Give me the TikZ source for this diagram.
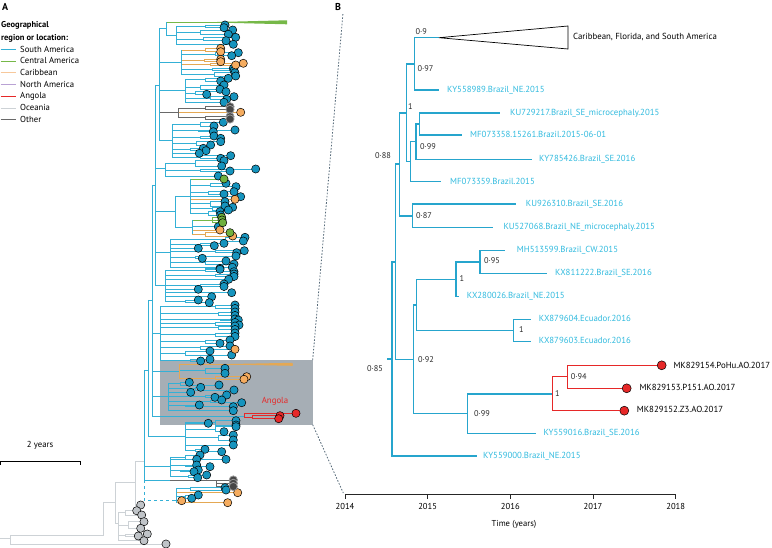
\documentclass[tikz,border=0pt]{standalone}
\usepackage{fontspec}
\setmainfont{PT Sans}
\definecolor{sa}{RGB}{52,176,214}
\definecolor{saB}{RGB}{38,165,205}
\definecolor{labc}{RGB}{48,186,222}
\definecolor{caC}{RGB}{118,184,72}
\definecolor{cbC}{RGB}{228,168,84}
\definecolor{cbL}{RGB}{247,200,155}
\definecolor{naC}{RGB}{185,162,212}
\definecolor{angC}{RGB}{230,40,40}
\definecolor{oceC}{RGB}{205,210,214}
\definecolor{othC}{RGB}{105,105,105}
\definecolor{bdot}{RGB}{22,148,190}
\definecolor{odot}{RGB}{245,172,95}
\definecolor{gdot}{RGB}{112,176,62}
\definecolor{kdot}{RGB}{70,70,70}
\definecolor{ydot}{RGB}{192,196,200}
\definecolor{boxc}{RGB}{166,174,181}
\definecolor{dashc}{RGB}{85,105,120}
\definecolor{supc}{RGB}{40,40,40}
\newcommand\mypairs[3]{\foreach \pa/\ya/\xa/\yb/\xb in {#3}{\draw[#1] (#2,{(\ya+\yb)/2}) -- (\pa,{(\ya+\yb)/2}) (\pa,\ya) -- (\pa,\yb) (\pa,\ya) -- (\xa,\ya) (\pa,\yb) -- (\xb,\yb);}}
\newcommand\mydots[2]{\foreach \yy/\xx in {#2}{\filldraw[#1] (\xx,\yy) circle (4.1pt);}}
\begin{document}
\begin{tikzpicture}[x=1pt,y=-1pt,
  brA/.style={sa,line width=0.75pt},
  brO/.style={cbC,line width=0.75pt},
  brG/.style={caC,line width=0.75pt},
  brDk/.style={othC,line width=0.75pt},
  brGy/.style={oceC,line width=0.9pt},
  brR/.style={angC,line width=0.8pt},
  brB/.style={saB,line width=1.1pt},
  brBR/.style={angC,line width=1.1pt},
  dB/.style={fill=bdot,draw=black,line width=0.5pt},
  dO/.style={fill=odot,draw=black,line width=0.5pt},
  dG/.style={fill=gdot,draw=black,line width=0.5pt},
  dK/.style={fill=kdot,draw=black!40,line width=0.8pt},
  dY/.style={fill=ydot,draw=black,line width=0.5pt},
  dR/.style={fill=angC,draw=black,line width=0.5pt},
  reddot/.style={circle,fill=angC,draw=black,line width=0.5pt,minimum size=9pt,inner sep=0pt},
  tip/.style={anchor=west,inner sep=0pt,font=\fontsize{8.8}{10}\selectfont,text=labc,text height=6pt,text depth=1.5pt},
  tipk/.style={tip,text=black},
  sup/.style={anchor=west,inner sep=0pt,font=\fontsize{8.3}{10}\selectfont,text=supc,text height=6pt,text depth=1.5pt},
  leg/.style={anchor=west,inner sep=0pt,font=\fontsize{8.7}{10}\selectfont,text height=6pt,text depth=1.5pt},
  legl/.style={line width=1pt}
]
\useasboundingbox (0,0) rectangle (772,548);

% ---------------- Panel labels and legend
\node[anchor=west,inner sep=0pt,font=\bfseries\fontsize{10}{12}\selectfont] (labA) at (2,7) {A};
\node[anchor=west,inner sep=0pt,font=\bfseries\fontsize{10}{12}\selectfont] (labB) at (335,7) {B};
\node[leg,font=\bfseries\fontsize{8.5}{10}\selectfont] (lg1) at (1,25) {Geographical};
\node[leg,font=\bfseries\fontsize{8.5}{10}\selectfont] (lg2) at (1,38) {region or location:};
\foreach \yy/\cc/\tt in {50/sa/South America,61.7/caC/Central America,73/cbL/Caribbean,85/naC/North America,96.7/angC/Angola,108.3/oceC/Oceania,120/othC/Other}{
  \draw[legl,\cc] (0.7,\yy) -- (15.7,\yy);
  \node[leg] at (20,\yy) {\tt};
}

% scale bar
\node[leg,anchor=center] (sbt) at (40,445) {2 years};
\draw[line width=0.9pt] (0.7,464.5) -- (0.7,461) -- (80,461) -- (80,464.5);

% ---------------- Zoom box and dashed connectors
\node[fill=boxc,draw=none,inner sep=0pt,minimum width=152.3pt,minimum height=64.3pt,anchor=north west] (zbox) at (160,360) {};
\coordinate (btop) at (343,13);
\coordinate (axl) at (343.3,493);
\draw[dashc,line width=0.8pt,dash pattern=on 1.6pt off 1.6pt] (zbox.north east) -- (btop);
\draw[dashc,line width=0.8pt,dash pattern=on 1.6pt off 1.6pt] (zbox.south east) -- (axl);

% ---------------- Panel A tree
\draw[brG] (166,22.3) -- (287,22.3);
\fill[caC] (205,22.3) -- (287,20.3) -- (287,24.3) -- cycle;
\draw[brA] (166,22.3) -- (166,35) (159,28.6) -- (166,28.6);
% S1
\mypairs{brA}{176}{205/25/225/27.7/224, 200/30/232.7/34.3/228.3, 203/37.3/235.7/40.7/226, 195/44.3/233.3/44.3/233.3}
\draw[brA] (176,26.35) -- (176,44.3) (166,35) -- (176,35);
% S2
\mypairs{brO}{181}{205/48.3/220.7/51.7/220.7, 204/59.3/220.7/61.7/220.7, 210/63.3/243.3/65/235.7}
\mypairs{brA}{181}{215/52.7/238.3/55.7/231.7, 212/68.3/233.3/70.7/234, 214/72.7/235/76/235.7}
\draw[brA] (181,50) -- (181,74.35) (159,62) -- (181,62);
% S3
\mypairs{brA}{185}{205/78.3/228.3/81/220.7, 200/85/224/89.3/220, 195/91.7/226/94.3/206.7, 210/96.7/234/99.3/226.7, 205/102.3/224/102.3/224}
\draw[brA] (185,79.65) -- (185,102.3) (159,90) -- (185,90);
% S4
\mypairs{brDk}{178}{205/106.7/230/109.5/230, 205/116.7/230/119/230}
\mypairs{brO}{178}{208/112.3/240.7/112.3/240.7}
\draw[brDk] (178,108.1) -- (178,117.85) (159,112) -- (178,112);
% S5
\mypairs{brA}{172}{200/122.3/223.3/126/214, 198/130/235/131.7/213.3, 200/136/214/138.3/220.7, 196/141.7/220.7/145/210.7, 190/148.3/203.3/150.7/206, 185/153.3/199.3/153.3/199.3, 200/155.7/230.7/158.3/220.7}
\draw[brA] (172,124.15) -- (172,157) (159,140) -- (172,140);
\draw[brA] (159,28.6) -- (159,140) (155,85) -- (159,85);
% S6
\mypairs{brA}{165}{195/160.7/224/166/221.7, 200/169/255.7/171/230, 190/176/218.3/176/218.3}
\draw[brA] (165,163.35) -- (165,176) (155,168) -- (165,168);
% S7
\mypairs{brG}{190}{205/179/224/179/224}
\mypairs{brA}{190}{210/183.3/226/186.7/236, 208/191.7/234/194/224, 206/196.7/240.7/196.7/240.7, 210/201.7/225/206/225, 212/207.3/232.7/210/228.3, 208/211.7/220/215/220.7}
\mypairs{brO}{190}{206/199.3/235/199.3/235}
\draw[brA] (190,179) -- (190,213.35);
% S8
\mypairs{brG}{192}{212/217.3/221.7/222.7/222.7, 212/220/222/220/222}
\mypairs{brA}{192}{200/226.7/218.3/226.7/218.3}
\mypairs{brO}{192}{205/230/220/230/220, 205/232.7/230/236/232.7}
\draw[brA] (192,220) -- (192,234.35);
\draw[brA] (175,196) -- (175,227) (175,196) -- (190,196) (175,227) -- (192,227) (155,211.5) -- (175,211.5);
% S9
\mypairs{brA}{170}{225/237.3/245/241/243.3, 200/243.3/224/245.7/214.3, 185/248.3/198.3/248.3/198.3, 215/250.7/244.3/252.7/236.7, 195/256/236/258.3/202.3, 205/261/226/264/234, 205/267.3/232.3/268.3/220}
\draw[brA] (170,239.15) -- (170,267.8) (155,252) -- (170,252);
% S10
\mypairs{brA}{165}{205/269.3/220/271.7/234, 215/274/234/276.5/234, 210/279.3/228.7/279.3/228.7, 200/284/224/286.5/224, 185/289.3/198.3/289.3/198.3, 210/292.7/231.7/292.7/231.7, 190/296.7/211.7/296.7/211.7, 185/300/198.3/302.7/209.3}
\draw[brA] (165,270.5) -- (165,301.35) (155,285) -- (165,285);
\draw[brA] (155,85) -- (155,285) (152,185) -- (155,185);
% S11
\mypairs{brA}{160}{215/305/235/308.5/235, 218/312/235/315.5/235, 220/319/235/320/238.3, 215/322.5/235/325/239, 218/326/235/329.5/235, 215/333/235/336.5/235, 205/340/230/343.3/220, 200/346/230/349.3/235, 185/351/210/355/231.7, 190/359.3/210/361/200.7}
\draw[brA] (160,306.75) -- (160,360.15) (152,333) -- (160,333);
% box: orange clade
\draw[brO] (179,364.3) -- (292.7,364.3);
\fill[cbC] (215,364.3) -- (292.7,362.8) -- (292.7,365.8) -- cycle;
\mypairs{brO}{179}{215/376.7/246.7/379.3/244}
\mypairs{brA}{179}{205/368.3/225/373.3/225}
\draw[brO] (179,364.3) -- (179,378);
\draw[brA] (152,371) -- (179,371);
% box: blue clade
\mypairs{brA}{168}{180/382.3/189.3/385/219, 195/387.3/200.7/390/234, 182/392.3/190.7/392.3/190.7, 205/395/226.7/397.3/215, 210/400/221.7/402.7/241.7, 185/405/199.3/406.7/233.3, 200/410.7/233.3/410.7/233.3}
\draw[brA] (168,383.65) -- (168,410.7) (152,396) -- (168,396);
% Angola
\draw[brA] (152,416) -- (244,416);
\draw[brR] (244,413.3) -- (244,417.2) (244,413.3) -- (296,413.3);
\mypairs{brR}{244}{252/415.7/280/418.7/278.7}
\node[inner sep=0pt,font=\fontsize{8.8}{10}\selectfont,text=angC] (angl) at (275,401.7) {Angola};
\draw[brA] (152,185) -- (152,416) (148,300) -- (152,300);
% bottom 1
\mypairs{brA}{185}{215/420.7/236/425/236, 192/423.3/208.3/423.3/208.3, 215/426.7/236/431.7/224, 218/435/233.3/440/233.3, 218/445/233.3/445/233.3, 195/449.3/205/451.7/221.7}
\draw[brA] (185,422.85) -- (185,450.5) (148,436) -- (185,436);
\draw[brA] (148,300) -- (148,436) (144,370) -- (148,370);
% bottom 2
\mypairs{brA}{170}{185/455/200/459.3/196.7, 195/459.3/226/459.3/226, 185/465/196.7/466.7/210, 180/470/198.3/471.7/194, 188/475/206.7/477.7/197.7}
\draw[brA] (170,457.15) -- (170,476.35) (144,466) -- (170,466);
% dark grey
\draw[brA] (144,480) -- (170,480);
\draw[brDk] (170,480) -- (216.7,480) (216.7,480) -- (216.7,486.5) (216.7,480) -- (233.3,480) (216.7,483.3) -- (233.3,483.3) (216.7,486.5) -- (233.3,486.5);
\draw[brA] (144,370) -- (144,480);
% dashed connection and bottom 3
\draw[brA,dashed] (144,480) -- (144,500) -- (173,500);
\mypairs{brA}{176}{190/487.7/225/490/226, 185/495/198.3/498.3/191.7}
\mypairs{brO}{176}{195/492.7/237.7/492.7/237.7, 176/500.7/181.7/500.7/181.7, 176/502.7/227.7/502.7/227.7}
\draw[brA] (176,488.85) -- (176,502.7) (173,500) -- (176,500);
% grey root
\draw[brGy] (0,538) -- (10,538) (10,535.7) -- (10,544) (10,535.7) -- (103,535.7) (10,544) -- (166,544);
\draw[brGy] (103,502) -- (103,535.7) (103,502) -- (115,502) (115,482) -- (115,523) (115,482) -- (135,482) (135,461.7) -- (135,505) (135,461.7) -- (144,461.7) (135,505) -- (140.7,505);
\mypairs{brGy}{118}{125/510.7/136.7/515/141.7, 128/521.7/144/528.3/140.7, 125/534/147.3/536/138.3, 122/540.7/144/540.7/144}
\draw[brGy] (118,512.85) -- (118,540.7) (115,523) -- (118,523);

% dots
\mydots{dB}{25/225, 27.7/224, 30/232.7, 34.3/228.3, 37.3/235.7, 40.7/226, 44.3/233.3,
52.7/238.3, 55.7/231.7, 68.3/233.3, 70.7/234, 72.7/235, 76/235.7,
78.3/228.3, 81/220.7, 85/224, 89.3/220, 91.7/226, 94.3/206.7, 96.7/234, 99.3/226.7, 102.3/224,
122.3/223.3, 126/214, 130/235, 131.7/213.3, 136/214, 138.3/220.7, 141.7/220.7, 145/210.7, 148.3/203.3, 150.7/206, 153.3/199.3, 155.7/230.7, 158.3/220.7,
160.7/224, 166/221.7, 169/255.7, 171/230, 176/218.3,
183.3/226, 186.7/236, 191.7/234, 194/224, 196.7/240.7, 201.7/225, 206/225, 207.3/232.7, 210/228.3, 211.7/220, 215/220.7, 226.7/218.3,
237.3/245, 241/243.3, 243.3/224, 245.7/214.3, 248.3/198.3, 250.7/244.3, 252.7/236.7, 256/236, 258.3/202.3, 261/226, 264/234, 267.3/232.3, 268.3/220,
269.3/220, 271.7/234, 274/234, 276.5/234, 279.3/228.7, 284/224, 286.5/224, 289.3/198.3, 292.7/231.7, 296.7/211.7, 300/198.3, 302.7/209.3,
305/235, 308.5/235, 312/235, 315.5/235, 319/235, 320/238.3, 322.5/235, 325/239, 326/235, 329.5/235, 333/235, 336.5/235, 340/230, 343.3/220, 346/230, 351/210, 355/231.7, 359.3/210, 361/200.7,
368.3/225, 373.3/225, 382.3/189.3, 387.3/200.7, 385/219, 390/234, 392.3/190.7, 395/226.7, 397.3/215, 400/221.7, 402.7/241.7, 405/199.3, 406.7/233.3, 410.7/233.3,
420.7/236, 425/236, 423.3/208.3, 426.7/236, 431.7/224, 435/233.3, 440/233.3, 445/233.3, 449.3/205, 451.7/221.7,
455/200, 459.3/196.7, 459.3/226, 465/196.7, 466.7/210, 470/198.3, 471.7/194, 475/206.7, 477.7/197.7,
487.7/225, 490/226, 495/198.3, 498.3/191.7}
\mydots{dO}{48.3/220.7, 51.7/220.7, 59.3/220.7, 61.7/220.7, 63.3/243.3, 65/235.7, 112.3/240.7, 199.3/235, 230/220, 236/232.7, 349.3/235, 376.7/246.7, 379.3/244, 492.7/237.7, 500.7/181.7, 502.7/227.7}
\mydots{dG}{179/224, 217.3/221.7, 220/222, 222.7/222.7, 232.7/230}
\mydots{dK}{106.7/230, 109.5/230, 116.7/230, 119/230, 480/233.3, 483.3/233.3, 486.5/233.3}
\mydots{dY}{505/140.7, 510.7/136.7, 515/141.7, 521.7/144, 528.3/140.7, 534/147.3, 536/138.3, 540.7/144, 544/166}
\mydots{dR}{413.3/296, 415.7/280, 418.7/278.7}

% ---------------- Panel B tree
\coordinate (stub) at (387.3,359);
\coordinate (n392) at (392,359);
\coordinate (n395) at (395.3,262);
\coordinate (n399) at (399.3,164);
\coordinate (n1a) at (406.7,113);
\coordinate (nT) at (414.3,64);
\coordinate (n410) at (410.7,161.7);
\coordinate (n416) at (416,141.7);
\coordinate (n419) at (419.3,124);
\coordinate (n4127) at (412.7,216);
\coordinate (n413) at (413.3,359.5);
\coordinate (n4167) at (416.7,305);
\coordinate (n456) at (456,279.3);
\coordinate (n480) at (480,262);
\coordinate (nEc) at (513.3,330.5);
\coordinate (n467) at (467.3,413.7);
\coordinate (nAng) at (552.3,394);
\coordinate (n567) at (567.3,376.3);
\coordinate (tCol) at (439,37.7);
\coordinate (t1) at (439,90);
\coordinate (t2) at (500,113);
\coordinate (t3) at (462,135);
\coordinate (t4) at (532,159.3);
\coordinate (t5) at (441,181.7);
\coordinate (t6) at (516,204);
\coordinate (t7) at (492.7,227.3);
\coordinate (t8) at (505,250.7);
\coordinate (t9) at (547.3,273.3);
\coordinate (t10) at (459.3,296.7);
\coordinate (t11) at (530.7,319.3);
\coordinate (t12) at (530.7,341.7);
\coordinate (t16) at (536,433.3);
\coordinate (t17) at (476.7,456);
\coordinate (triT) at (568,26);
\coordinate (triB) at (568,49);

\draw[brB] (stub) -- (n392);
\draw[brB] (n392) |- (n395);
\draw[brB] (n392) |- (t17);
\draw[brB] (n395) |- (n399);
\draw[brB] (n395) |- (n413);
\draw[brB] (n399) |- (n1a);
\draw[brB] (n399) |- (n4127);
\draw[brB] (n1a) |- (nT);
\draw[brB] (n1a) |- (n410);
\draw[brB] (nT) |- (tCol);
\draw[brB] (nT) |- (t1);
\draw[brB] (n410) |- (n416);
\draw[brB] (n410) |- (t5);
\draw[brB] (n416) |- (n419);
\draw[brB] (n416) |- (t4);
\draw[brB] (n419) |- (t2);
\draw[brB] (n419) |- (t3);
\draw[brB] (n4127) |- (t6);
\draw[brB] (n4127) |- (t7);
\draw[brB] (n413) |- (n4167);
\draw[brB] (n413) |- (n467);
\draw[brB] (n4167) |- (n456);
\draw[brB] (n4167) |- (nEc);
\draw[brB] (n456) |- (n480);
\draw[brB] (n456) |- (t10);
\draw[brB] (n480) |- (t8);
\draw[brB] (n480) |- (t9);
\draw[brB] (nEc) |- (t11);
\draw[brB] (nEc) |- (t12);
\draw[brB] (n467) |- (nAng);
\draw[brB] (n467) |- (t16);
\draw[black,line width=0.7pt] (tCol) -- (triT) -- (triB) -- cycle;

\node[reddot] (t13) at (661.7,365.3) {};
\node[reddot] (t14) at (626.7,388.3) {};
\node[reddot] (t15) at (624.3,410.7) {};
\draw[brBR] (nAng) |- (n567);
\draw[brBR] (nAng) |- (t15);
\draw[brBR] (n567) |- (t13);
\draw[brBR] (n567) |- (t14);

% tip labels
\node[tipk] (lCol) at (573,37) {Caribbean, Florida, and South America};
\node[tip] at (447,90) {KY558989.Brazil\_NE.2015};
\node[tip] at (510,113) {KU729217.Brazil\_SE\_microcephaly.2015};
\node[tip] at (470,135) {MF073358.15261.Brazil.2015-06-01};
\node[tip] at (539,159) {KY785426.Brazil\_SE.2016};
\node[tip] at (450,182) {MF073359.Brazil.2015};
\node[tip] at (525.7,204) {KU926310.Brazil\_SE.2016};
\node[tip] at (503.3,227.3) {KU527068.Brazil\_NE\_microcephaly.2015};
\node[tip] at (516.7,250.7) {MH513599.Brazil\_CW.2015};
\node[tip] at (555,273) {KX811222.Brazil\_SE.2016};
\node[tip] at (466.7,296.7) {KX280026.Brazil\_NE.2015};
\node[tip] at (538.7,319.3) {KX879604.Ecuador.2016};
\node[tip] at (538.7,341.7) {KX879603.Ecuador.2016};
\node[tipk] at (673.3,366) {MK829154.PoHu.AO.2017};
\node[tipk] at (639.3,388.3) {MK829153.P151.AO.2017};
\node[tipk] at (636.7,410.7) {MK829152.Z3.AO.2017};
\node[tip] at (543.3,433.3) {KY559016.Brazil\_SE.2016};
\node[tip] at (483,456) {KY559000.Brazil\_NE.2015};

% support values
\node[sup] at (415.5,32) {0·9};
\node[sup] at (417.5,69) {0·97};
\node[sup] at (408,107) {1};
\node[sup] at (420,147) {0·99};
\node[sup] at (375,156) {0·88};
\node[sup] at (416,216) {0·87};
\node[sup] at (484,261.7) {0·95};
\node[sup] at (459.5,279) {1};
\node[sup] at (519,330.7) {1};
\node[sup] at (418,360.7) {0·92};
\node[sup] at (367,369) {0·85};
\node[sup] at (555,394.3) {1};
\node[sup] at (570.7,377.3) {0·94};
\node[sup] at (474,414.7) {0·99};

% axis
\draw[line width=0.9pt,black!85] (345,494) -- (675.7,494);
\foreach \i/\yr in {0/2014,1/2015,2/2016,3/2017,4/2018}{
  \draw[line width=0.9pt,black!85] ({345+82.675*\i},494) -- ++(0,5);
  \node[inner sep=0pt,font=\fontsize{8.6}{10}\selectfont,anchor=north] at ({345+82.675*\i},503) {\yr};
}
\node[inner sep=0pt,font=\fontsize{8.6}{10}\selectfont] (tlab) at (514,524.5) {Time (years)};
\end{tikzpicture}
\end{document}
